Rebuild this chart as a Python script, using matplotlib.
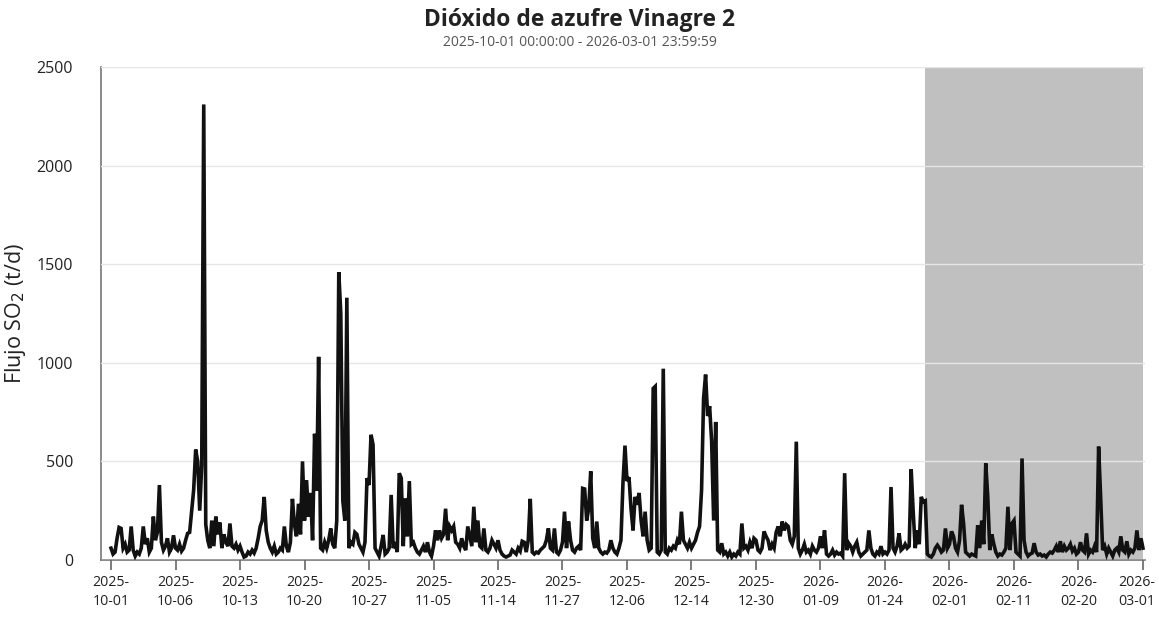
import matplotlib
matplotlib.use("Agg")
import matplotlib.pyplot as plt
import matplotlib.transforms as mtransforms
import numpy as np

plt.rcParams['font.family'] = ['Open Sans', 'DejaVu Sans']

title = "Dióxido de azufre Vinagre 2"
subtitle = "2025-10-01 00:00:00 - 2026-03-01 23:59:59"
ylabel = "Flujo SO$_2$ (t/d)"

tick_labels = ["2025-\n10-01", "2025-\n10-06", "2025-\n10-13", "2025-\n10-20", "2025-\n10-27",
               "2025-\n11-05", "2025-\n11-14", "2025-\n11-27", "2025-\n12-06", "2025-\n12-14",
               "2025-\n12-30", "2026-\n01-09", "2026-\n01-24", "2026-\n02-01", "2026-\n02-11",
               "2026-\n02-20", "2026-\n03-01"]

# SO2 flux samples (t/d), 32 samples between consecutive labelled ticks
seg00 = [60, 30, 40, 110, 165, 160, 60, 80, 40, 50, 170, 50, 20, 40, 30, 60,
         170, 80, 110, 40, 60, 220, 100, 140, 380, 90, 50, 70, 110, 40, 60, 125]
seg01 = [60, 50, 80, 45, 60, 100, 135, 140, 250, 355, 560, 500, 250, 480, 2310, 180,
         100, 60, 200, 70, 220, 130, 190, 60, 130, 90, 70, 185, 70, 60, 80, 50]
seg02 = [70, 40, 15, 20, 40, 30, 50, 35, 60, 110, 170, 200, 320, 150, 90, 60,
         40, 70, 30, 40, 60, 50, 170, 70, 40, 90, 310, 180, 120, 285, 130, 500]
seg03 = [200, 405, 220, 340, 100, 640, 350, 1030, 60, 50, 90, 60, 100, 160, 80, 60,
         200, 1460, 1250, 300, 200, 1330, 60, 90, 80, 140, 130, 80, 60, 40, 90, 415]
seg04 = [380, 635, 585, 60, 40, 20, 70, 127, 30, 40, 60, 330, 60, 90, 40, 440,
         415, 70, 313, 120, 400, 80, 90, 60, 40, 30, 50, 70, 40, 90, 40, 20]
seg05 = [70, 150, 100, 150, 110, 130, 260, 100, 170, 150, 170, 90, 80, 60, 110, 70,
         50, 170, 120, 70, 270, 90, 200, 70, 60, 160, 50, 40, 60, 100, 80, 60]
seg06 = [100, 50, 30, 20, 15, 20, 25, 50, 40, 30, 60, 45, 95, 90, 40, 100,
         310, 40, 30, 40, 35, 50, 60, 70, 100, 160, 60, 50, 160, 40, 30, 50]
seg07 = [90, 245, 60, 195, 100, 50, 40, 60, 70, 50, 363, 360, 200, 260, 450, 110,
         60, 195, 60, 40, 30, 40, 35, 50, 100, 60, 40, 30, 60, 100, 390, 580]
seg08 = [400, 420, 260, 150, 320, 280, 340, 200, 120, 245, 100, 50, 60, 870, 880, 40,
         30, 50, 970, 40, 30, 60, 50, 70, 60, 100, 80, 245, 100, 80, 60, 90]
seg09 = [60, 80, 100, 140, 170, 355, 820, 940, 730, 780, 600, 200, 700, 50, 40, 85,
         30, 40, 20, 40, 15, 30, 20, 40, 30, 185, 60, 70, 50, 90, 60, 110]
seg10 = [100, 50, 40, 60, 145, 120, 100, 50, 80, 60, 140, 170, 120, 195, 150, 180,
         170, 100, 80, 120, 600, 60, 30, 50, 80, 40, 50, 30, 70, 50, 40, 60]
seg11 = [120, 60, 150, 30, 20, 30, 50, 25, 40, 30, 35, 20, 440, 50, 85, 70,
         40, 70, 90, 40, 20, 30, 40, 50, 150, 60, 30, 20, 40, 30, 70, 30]
seg12 = [40, 30, 50, 370, 60, 40, 70, 135, 50, 60, 80, 60, 70, 460, 245, 60,
         150, 80, 320, 295, 300, 30, 20, 15, 30, 60, 75, 60, 40, 50, 160, 60]
seg13 = [80, 145, 120, 60, 40, 100, 280, 185, 40, 30, 20, 30, 25, 20, 175, 60,
         200, 80, 490, 320, 50, 130, 80, 40, 20, 30, 25, 40, 60, 270, 50, 185]
seg14 = [200, 40, 30, 20, 515, 100, 40, 20, 30, 35, 85, 40, 25, 30, 20, 25,
         15, 30, 40, 35, 50, 70, 40, 95, 40, 70, 50, 60, 80, 45, 60, 30]
seg15 = [40, 90, 50, 40, 135, 30, 50, 40, 70, 40, 575, 320, 50, 70, 30, 60,
         40, 20, 50, 60, 40, 120, 50, 40, 95, 30, 50, 40, 60, 150, 50, 110]
last_value = [60]

so2 = np.array(seg00 + seg01 + seg02 + seg03 + seg04 + seg05 + seg06 + seg07 +
               seg08 + seg09 + seg10 + seg11 + seg12 + seg13 + seg14 + seg15 + last_value,
               dtype=float)
shade_start_index = 404

n = len(so2)
x = np.arange(n)
per_tick = 32
tick_pos = np.arange(0, n, per_tick)

fig = plt.figure(figsize=(11.59, 6.20), dpi=100)
ax = fig.add_axes([0.0871, 0.0968, 0.9008, 0.7952])

ax.axvspan(shade_start_index, n - 1, color='#c0c0c0', zorder=0, lw=0)
ax.set_axisbelow(False)
ax.yaxis.grid(True, color='#e6e6e6', lw=1.0, zorder=1)
ax.plot(x, so2, color='#111111', lw=2.6, zorder=3, solid_joinstyle='miter')

ax.set_xlim(-5, n - 1 + 1)
ax.set_ylim(0, 2500)
ax.set_yticks([0, 500, 1000, 1500, 2000, 2500])
ax.set_xticks(tick_pos)
ax.set_xticklabels(tick_labels, fontsize=10.2, color='#222222', linespacing=1.3)
ax.tick_params(axis='y', length=0, labelsize=11.5, labelcolor='#222222', pad=20)
ax.tick_params(axis='x', length=7, width=1.2, color='#666666', pad=4)

# nudge the last date label so it stays inside the figure
last_lbl = ax.get_xticklabels()[-1]
last_lbl.set_transform(last_lbl.get_transform() +
                       mtransforms.ScaledTranslation(-6 / 100, 0, fig.dpi_scale_trans))

for s in ['top', 'right']:
    ax.spines[s].set_visible(False)
for s in ['left', 'bottom']:
    ax.spines[s].set_color('#777777')
    ax.spines[s].set_linewidth(1.2)

ax.set_ylabel(ylabel, fontsize=15.5, color='#222222', labelpad=6)

fig.text(0.5, 0.968, title, ha='center', va='center', fontsize=16.5, fontweight='bold', color='#222222')
fig.text(0.5, 0.932, subtitle, ha='center', va='center', fontsize=10, color='#555555')

fig.savefig('out.png', dpi=100)
